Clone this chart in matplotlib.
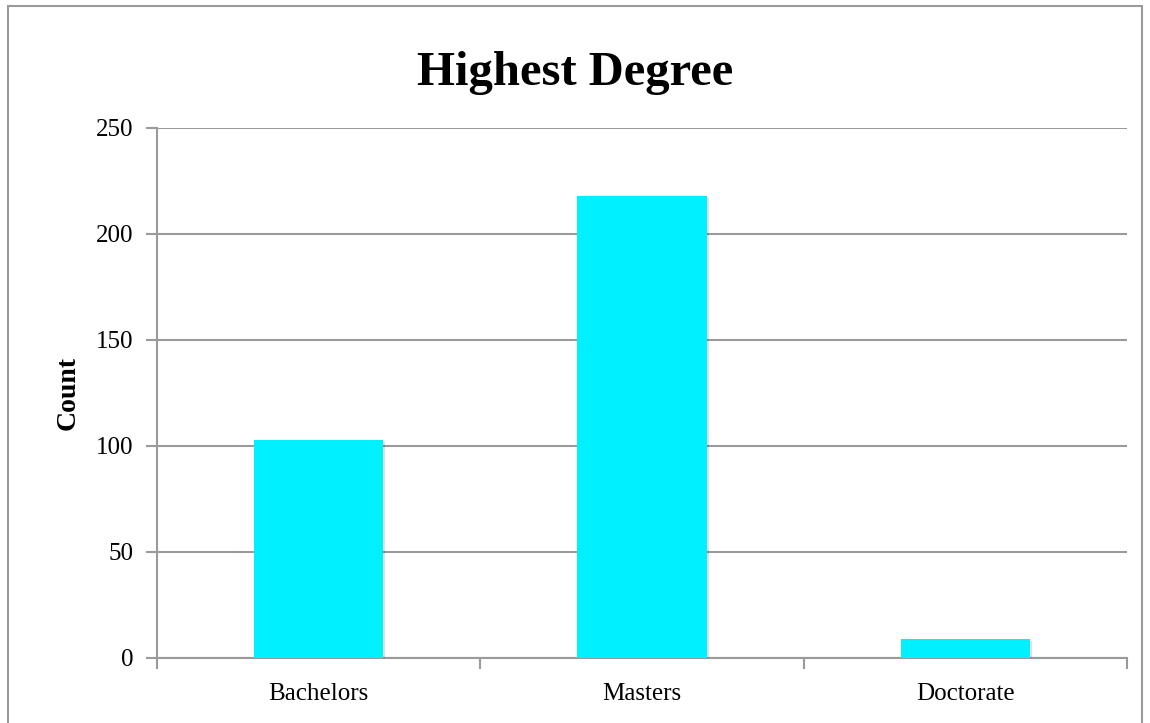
import matplotlib.pyplot as plt
import matplotlib.patches as mpatches
import matplotlib.patheffects as pe
import numpy as np

categories = ["Bachelors", "Masters", "Doctorate"]
counts = [103, 218, 9]
y_ticks = [0, 50, 100, 150, 200, 250]

GRAY = "#9a9a9a"
BAR = "#00f0ff"

plt.rcParams["font.family"] = ["Liberation Serif", "DejaVu Serif"]

fig = plt.figure(figsize=(11.5, 7.23), dpi=100)
ax = fig.add_axes([157 / 1150, 1 - 658 / 723, 970 / 1150, 530 / 723])

# outer chart border (bottom edge falls off the picture)
fig.patches.append(mpatches.Rectangle((8 / 1150, -0.01), 1134 / 1150, 1 - 6 / 723 + 0.01,
                                      transform=fig.transFigure, fill=False,
                                      edgecolor=GRAY, linewidth=1.5))

x = np.arange(len(categories))
bars = ax.bar(x, counts, width=0.4, color=BAR, zorder=3)
for b in bars:
    b.set_path_effects([pe.SimplePatchShadow(offset=(1.5, -1.5), shadow_rgbFace="black", alpha=0.12),
                        pe.Normal()])

ax.set_xlim(-0.5, len(categories) - 0.5)
ax.set_ylim(0, 250)
ax.set_yticks(y_ticks)
ax.set_yticklabels([str(v) for v in y_ticks], fontsize=18)
ax.yaxis.grid(True, color=GRAY, linewidth=1.5, zorder=0)
ax.set_axisbelow(True)

# category labels centred, tick marks on the boundaries
ax.set_xticks(x)
ax.set_xticklabels(categories, fontsize=18)
ax.tick_params(axis="x", length=0, pad=18)
ax.set_xticks(np.arange(-0.5, len(categories)), minor=True)
ax.tick_params(axis="x", which="minor", length=8, color=GRAY, width=1.5)
ax.tick_params(axis="y", length=8, color=GRAY, width=1.5, pad=9)

for side in ["top", "right"]:
    ax.spines[side].set_visible(False)
for side in ["left", "bottom"]:
    ax.spines[side].set_color(GRAY)
    ax.spines[side].set_linewidth(1.5)

ax.set_ylabel("Count", fontsize=20, fontweight="bold", labelpad=11)
fig.text(0.5, 1 - 73 / 723, "Highest Degree", ha="center", va="center",
         fontsize=35, fontweight="bold")

fig.savefig("out.png", dpi=100)
